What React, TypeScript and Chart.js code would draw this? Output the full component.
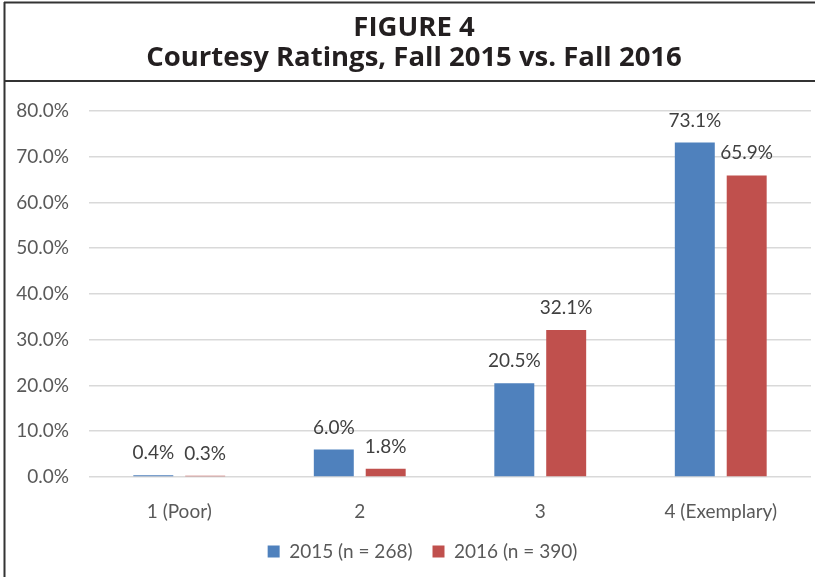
import React, { useEffect, useRef } from 'react';
import { Chart, registerables } from 'chart.js';

Chart.register(...registerables);

const categories = ['1 (Poor)', '2', '3', '4 (Exemplary)'];
const series2015 = [0.4, 6.0, 20.5, 73.1];
const series2016 = [0.3, 1.8, 32.1, 65.9];
const seriesLabels = ['2015 (n = 268)', '2016 (n = 390)'];
const seriesColors = ['#4F81BD', '#C0504D'];
const titleLines = ['FIGURE 4', 'Courtesy Ratings, Fall 2015 vs. Fall 2016'];
const yMin = 0;
const yMax = 80;
const yStep = 10;

const FONT = 'Lato, "Open Sans", sans-serif';
const TITLE_FONT = '"Open Sans", Lato, sans-serif';

const framePlugin = {
  id: 'frame',
  beforeDraw(chart: any) {
    const ctx = chart.ctx;
    const w = chart.width;
    const h = chart.height;
    ctx.save();
    ctx.fillStyle = '#ffffff';
    ctx.fillRect(0, 0, w, h);
    ctx.strokeStyle = '#333333';
    ctx.lineWidth = 2;
    ctx.beginPath();
    ctx.moveTo(4, 2.5);
    ctx.lineTo(w, 2.5);
    ctx.moveTo(4.5, 2);
    ctx.lineTo(4.5, h);
    ctx.moveTo(4, 81);
    ctx.lineTo(w, 81);
    ctx.stroke();
    ctx.restore();
  },
};

const shiftPlugin = {
  id: 'boxShift',
  afterLayout(chart: any) {
    const lg = chart.legend;
    if (lg) {
      lg.left += 17;
      lg.right += 17;
    }
    const tt = chart.titleBlock;
    if (tt) {
      tt.left += 8.5;
      tt.right += 8.5;
    }
  },
};

const valueLabelPlugin = {
  id: 'valueLabels',
  afterDatasetsDraw(chart: any) {
    const ctx = chart.ctx;
    ctx.save();
    ctx.font = `19px ${FONT}`;
    ctx.fillStyle = '#404040';
    ctx.textAlign = 'center';
    ctx.textBaseline = 'alphabetic';
    chart.data.datasets.forEach((ds: any, i: number) => {
      const meta = chart.getDatasetMeta(i);
      meta.data.forEach((bar: any, j: number) => {
        const v = ds.data[j] as number;
        ctx.fillText(v.toFixed(1) + '%', bar.x, bar.y - 16);
      });
    });
    ctx.restore();
  },
};

export default function App() {
  const canvasRef = useRef<HTMLCanvasElement | null>(null);

  useEffect(() => {
    if (!canvasRef.current) return;
    const chart = new Chart(canvasRef.current, {
      type: 'bar',
      data: {
        labels: categories,
        datasets: [
          {
            label: seriesLabels[0],
            data: series2015,
            backgroundColor: seriesColors[0],
            borderWidth: 0,
            categoryPercentage: 0.575,
            barPercentage: 0.77,
          },
          {
            label: seriesLabels[1],
            data: series2016,
            backgroundColor: seriesColors[1],
            borderWidth: 0,
            categoryPercentage: 0.575,
            barPercentage: 0.77,
          },
        ],
      },
      options: {
        responsive: false,
        animation: false,
        layout: { padding: { top: 0, left: 0, right: 4, bottom: 6 } },
        plugins: {
          title: {
            display: true,
            text: titleLines,
            color: '#231F20',
            font: { family: TITLE_FONT, size: 27.5, weight: 'bold', lineHeight: 1.09 },
            padding: { top: 13.5, bottom: 37.5 },
          },
          legend: {
            display: true,
            position: 'bottom',
            labels: {
              boxWidth: 12,
              boxHeight: 12,
              padding: 20,
              color: '#595959',
              font: { family: FONT, size: 19 },
            },
          },
          tooltip: { enabled: false },
        },
        scales: {
          x: {
            grid: { display: false },
            border: { display: false },
            ticks: {
              color: '#595959',
              font: { family: FONT, size: 19 },
              padding: 15,
            },
            afterFit(scale: any) {
              scale.height = 45;
            },
          },
          y: {
            min: yMin,
            max: yMax,
            ticks: {
              stepSize: yStep,
              color: '#595959',
              font: { family: FONT, size: 19 },
              padding: 20,
              callback: (v: any) => Number(v).toFixed(1) + '%',
            },
            grid: { color: '#D9D9D9', lineWidth: 1.5, drawTicks: false },
            border: { display: false },
            afterFit(scale: any) {
              scale.width = 89;
            },
          },
        },
      },
      plugins: [framePlugin, valueLabelPlugin, shiftPlugin],
    });
    return () => chart.destroy();
  }, []);

  return (
    <div style={{ position: 'fixed', left: 0, top: 0, width: 815, height: 577, background: '#fff' }}>
      <canvas ref={canvasRef} width={815} height={577} style={{ display: 'block' }} />
    </div>
  );
}
